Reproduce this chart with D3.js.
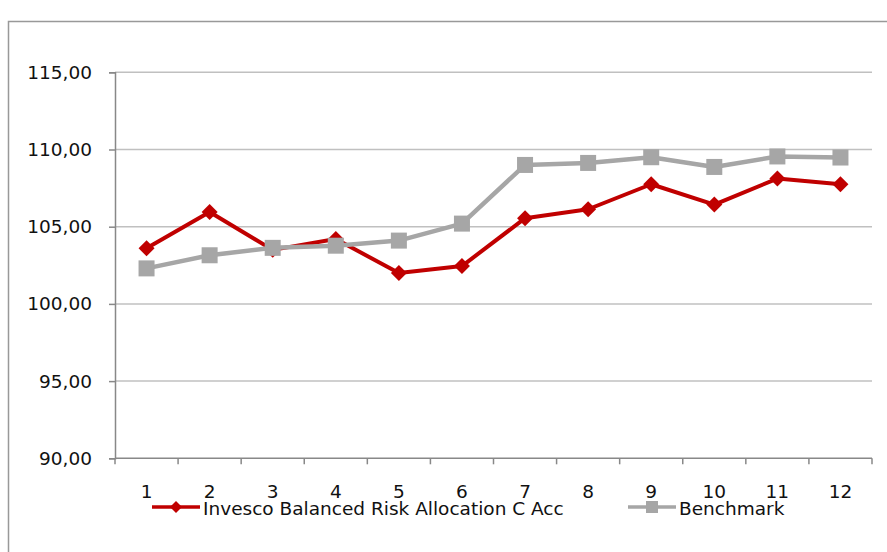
<!DOCTYPE html>
<html><head><meta charset="utf-8">
<script src="https://cdn.jsdelivr.net/npm/d3@7"></script>
<style>html,body{margin:0;padding:0;background:#fff;}svg{display:block;}</style>
</head><body>
<svg id="chart" width="887" height="552"></svg>
<script>
const categories = ["1","2","3","4","5","6","7","8","9","10","11","12"];
const fundValues = [103.6, 105.95, 103.5, 104.2, 102.0, 102.45, 105.55, 106.13, 107.75, 106.43, 108.12, 107.75];
const benchValues = [102.3, 103.15, 103.63, 103.77, 104.1, 105.2, 109.0, 109.13, 109.5, 108.87, 109.55, 109.48];
const yTicks = [90, 95, 100, 105, 110, 115];
const seriesNames = ["Invesco Balanced Risk Allocation C Acc", "Benchmark"];
const colors = ["#c00000", "#a6a6a6"];

(function () {
const svg = d3.select("#chart");
const font = "'DejaVu Sans', Verdana, sans-serif";
const fs = 18.5;

// outer frame
svg.append("rect").attr("x", 8.5).attr("y", 21.5).attr("width", 900).attr("height", 600)
  .attr("fill", "none").attr("stroke", "#999").attr("stroke-width", 1.5);

const pLeft = 115, pRight = 872, pTop = 72.3, pBottom = 458.3;
const x = d3.scaleBand().domain(categories).range([pLeft, pRight]);
const y = d3.scaleLinear().domain([90, 115]).range([pBottom, pTop]);

// gridlines
svg.append("g").selectAll("line").data(yTicks.filter(d => d > 90)).join("line")
  .attr("x1", pLeft).attr("x2", pRight)
  .attr("y1", d => y(d)).attr("y2", d => y(d))
  .attr("stroke", "#c0c0c0").attr("stroke-width", 1.5);

// y axis
const yAxis = d3.axisLeft(y).tickValues(yTicks).tickSize(6).tickPadding(17)
  .tickFormat(d => d3.format(".2f")(d).replace(".", ","));
const gy = svg.append("g").attr("transform", `translate(${pLeft},0)`).call(yAxis);
gy.select(".domain").attr("stroke", "#888").attr("stroke-width", 1.5);
gy.selectAll(".tick line").attr("stroke", "#888").attr("stroke-width", 1.5);
gy.selectAll("text").attr("font-family", font).attr("font-size", fs).attr("fill", "#111");

// x axis with ticks at band boundaries
const gx = svg.append("g").attr("transform", `translate(0,${pBottom})`);
gx.append("line").attr("x1", pLeft).attr("x2", pRight).attr("y1", 0).attr("y2", 0)
  .attr("stroke", "#888").attr("stroke-width", 1.5);
const boundaries = categories.map(c => x(c)).concat([x(categories[categories.length-1]) + x.bandwidth()]);
gx.selectAll("line.tk").data(boundaries).join("line").attr("class", "tk")
  .attr("x1", d => d).attr("x2", d => d).attr("y1", 0).attr("y2", 6)
  .attr("stroke", "#888").attr("stroke-width", 1.5);
gx.selectAll("text").data(categories).join("text")
  .attr("x", d => x(d) + x.bandwidth() / 2).attr("y", 40)
  .attr("text-anchor", "middle").attr("font-family", font).attr("font-size", fs).attr("fill", "#111")
  .text(d => d);

const cx = d => x(d) + x.bandwidth() / 2;
const line = d3.line().x(d => cx(d.c)).y(d => y(d.v));
const fund = categories.map((c, i) => ({c, v: fundValues[i]}));
const bench = categories.map((c, i) => ({c, v: benchValues[i]}));

const diamond = (s) => `M0,${-s}L${s},0L0,${s}L${-s},0Z`;

// fund series
svg.append("path").datum(fund).attr("d", line).attr("fill", "none")
  .attr("stroke", colors[0]).attr("stroke-width", 4).attr("stroke-linejoin", "round");
svg.append("g").selectAll("path").data(fund).join("path")
  .attr("transform", d => `translate(${cx(d.c)},${y(d.v)})`)
  .attr("d", diamond(8)).attr("fill", colors[0]);

// benchmark series
svg.append("path").datum(bench).attr("d", line).attr("fill", "none")
  .attr("stroke", colors[1]).attr("stroke-width", 4.5).attr("stroke-linejoin", "round");
svg.append("g").selectAll("rect").data(bench).join("rect")
  .attr("x", d => cx(d.c) - 8).attr("y", d => y(d.v) - 8)
  .attr("width", 16).attr("height", 16).attr("fill", colors[1]);

// legend
const legend = svg.append("g");
const legItems = [{x: 152, name: seriesNames[0], color: colors[0], shape: "diamond"},
                  {x: 628, name: seriesNames[1], color: colors[1], shape: "square"}];
legItems.forEach(it => {
  const g = legend.append("g").attr("transform", `translate(${it.x},507)`);
  g.append("line").attr("x1", 0).attr("x2", 48).attr("stroke", it.color).attr("stroke-width", 3.5);
  if (it.shape === "diamond") g.append("path").attr("d", diamond(6)).attr("transform", "translate(24,0)").attr("fill", it.color);
  else g.append("rect").attr("x", 18).attr("y", -6).attr("width", 12).attr("height", 12).attr("fill", it.color);
  g.append("text").attr("x", 51).attr("y", 8).attr("font-family", font).attr("font-size", fs)
    .attr("fill", "#111").text(it.name);
});
})();
</script>
</body></html>
